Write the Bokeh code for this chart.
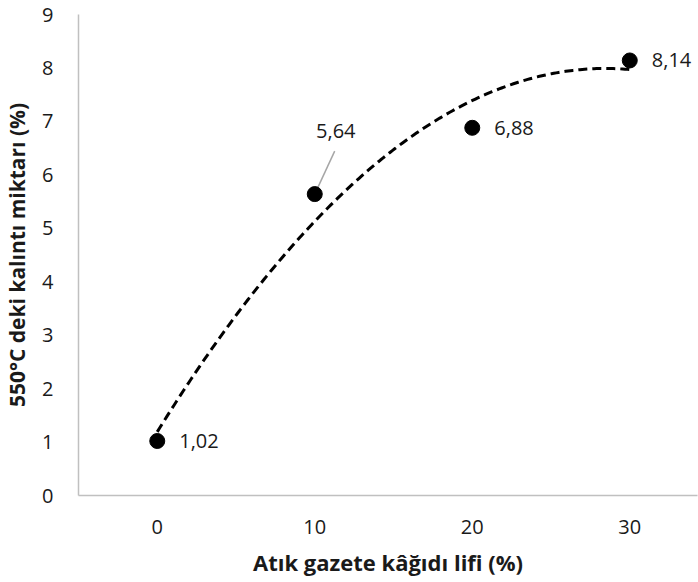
import numpy as np
from bokeh.plotting import figure
from bokeh.models import Range1d, FixedTicker
from bokeh.core.properties import value
from bokeh.embed import file_html
from bokeh.resources import INLINE

# data
fiber = [0, 10, 20, 30]
residue = [1.02, 5.64, 6.88, 8.14]
labels = ["1,02", "5,64", "6,88", "8,14"]
x_ticks = [0, 10, 20, 30]
y_ticks = [0, 1, 2, 3, 4, 5, 6, 7, 8, 9]

FONT = "Open Sans"

p = figure(width=698, height=582, output_backend="svg", toolbar_location=None,
           x_range=Range1d(-5, 34.3), y_range=Range1d(0, 9),
           min_border_left=76, min_border_right=1, min_border_top=14, min_border_bottom=87)
p.outline_line_color = None
p.xgrid.visible = False
p.ygrid.visible = False

for ax in (p.xaxis[0], p.yaxis[0]):
    ax.axis_line_color = "#c0c0c0"
    ax.axis_line_width = 1.5
    ax.major_tick_line_color = None
    ax.minor_tick_line_color = None
    ax.major_label_text_font = FONT
    ax.major_label_text_font_size = "20px"
    ax.major_label_text_color = "#1a1a1a"
    ax.axis_label_text_font = FONT
    ax.axis_label_text_font_style = "bold"
    ax.axis_label_text_color = "#1a1a1a"

p.xaxis.axis_label_text_font_size = "22px"
p.yaxis.axis_label_text_font_size = "21px"
p.xaxis.ticker = FixedTicker(ticks=x_ticks)
p.yaxis.ticker = FixedTicker(ticks=y_ticks)
p.xaxis.axis_label = "Atık gazete kâğıdı lifi (%)"
p.yaxis.axis_label = "550°C deki kalıntı miktarı (%)"
p.xaxis.major_label_standoff = 18
p.yaxis.major_label_standoff = 19
p.xaxis.axis_label_standoff = 10
p.yaxis.axis_label_standoff = 8

# polynomial (order 2) trendline fitted to the data
coef = np.polyfit(fiber, residue, 2)
xs = np.linspace(min(fiber), max(fiber), 200)
ys = np.polyval(coef, xs)
p.line(xs, ys, line_color="black", line_width=3, line_dash="9 5")

# leader line for the 5,64 label (offset converted from pixels to data units)
xpx = 621 / (34.3 + 5)
ypx = 481 / 9
p.segment(x0=[fiber[1]], y0=[residue[1]], x1=[fiber[1] + 20 / xpx], y1=[residue[1] + 43 / ypx],
          line_color="#a6a6a6", line_width=1.5)

p.scatter(fiber, residue, size=15, marker="circle", fill_color="black", line_color="black")

# data labels
side_x = [fiber[0], fiber[2], fiber[3]]
side_y = [residue[0], residue[2], residue[3]]
side_t = [labels[0], labels[2], labels[3]]
p.text(side_x, side_y, text=side_t, x_offset=22, y_offset=0, text_baseline="middle",
       text_align="left", text_font=value(FONT), text_font_size="20px", text_color="#1a1a1a")
p.text([fiber[1]], [residue[1]], text=[labels[1]], x_offset=21, y_offset=-63,
       text_baseline="middle", text_align="center", text_font=value(FONT),
       text_font_size="20px", text_color="#1a1a1a")

open("out.html", "w").write(file_html(p, INLINE))
